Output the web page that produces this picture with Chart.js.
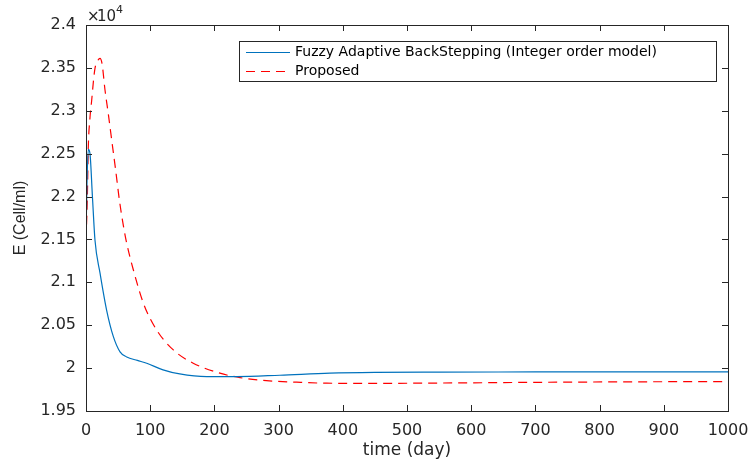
<!DOCTYPE html>
<html lang="en">
<head>
  <meta charset="UTF-8">
  <title>E (Cell/ml) vs time</title>
  <script src="https://cdn.jsdelivr.net/npm/chart.js"></script>
  <style>
    body { margin: 0; background: #ffffff; }
    #wrap { width: 751px; height: 461px; position: relative; }
  </style>
</head>
<body>
  <div id="wrap"><canvas id="chart"></canvas></div>

  <script>
    // time (day) and E values in units of 1e4
    const tBlue = [0, 1.5, 3.6, 6.2, 10, 14, 21.8, 32, 42.5, 53, 63.4, 80, 94.6, 120, 146, 188, 235, 302, 380, 450, 550, 700, 850, 1000];
    const eBlue = [2.15, 2.215, 2.255, 2.25, 2.2, 2.149, 2.111, 2.068, 2.037, 2.019, 2.013, 2.009, 2.0057, 1.998, 1.9932, 1.9901, 1.9901, 1.9917, 1.9941, 1.995, 1.9953, 1.9955, 1.9956, 1.9956];

    const tRed = [0, 2, 3.6, 6, 8.9, 11.5, 14, 18, 21.8, 25, 29.6, 35, 40, 46, 52, 58, 63.4, 73.8, 89.4, 110, 136, 167, 208.5, 240, 281, 328, 375, 450, 550, 700, 850, 1000];
    const eRed = [2.15, 2.196, 2.258, 2.29, 2.3126, 2.334, 2.3495, 2.358, 2.3612, 2.355, 2.3242, 2.295, 2.266, 2.232, 2.196, 2.167, 2.1456, 2.1144, 2.0756, 2.0445, 2.0212, 2.0057, 1.9941, 1.9889, 1.9854, 1.9836, 1.9824, 1.9822, 1.9826, 1.9834, 1.984, 1.9843];

    const seriesNames = ['Fuzzy Adaptive BackStepping (Integer order model)', 'Proposed'];
    const xTicks = [0, 100, 200, 300, 400, 500, 600, 700, 800, 900, 1000];
    const yTicks = [1.95, 2, 2.05, 2.1, 2.15, 2.2, 2.25, 2.3, 2.35, 2.4];

    const BLUE = '#0072BD';
    const RED = '#FF0000';
    const AXIS = '#262626';
    const FONT = '"DejaVu Sans", sans-serif';

    const toPoints = (xs, ys) => xs.map((x, i) => ({ x: x, y: ys[i] }));

    // box, inward ticks, legend and exponent label
    const matlabAxes = {
      id: 'matlabAxes',
      afterDraw(chart) {
        const ctx = chart.ctx;
        const a = chart.chartArea;
        const xs = chart.scales.x, ys = chart.scales.y;
        ctx.save();
        ctx.strokeStyle = AXIS;
        ctx.lineWidth = 1;
        ctx.strokeRect(Math.round(a.left) + 0.5, Math.round(a.top) + 0.5,
                       Math.round(a.right - a.left), Math.round(a.bottom - a.top));
        ctx.beginPath();
        xTicks.forEach(v => {
          const px = Math.round(xs.getPixelForValue(v)) + 0.5;
          ctx.moveTo(px, a.bottom); ctx.lineTo(px, a.bottom - 6);
          ctx.moveTo(px, a.top); ctx.lineTo(px, a.top + 6);
        });
        yTicks.forEach(v => {
          const py = Math.round(ys.getPixelForValue(v)) + 0.5;
          ctx.moveTo(a.left, py); ctx.lineTo(a.left + 6, py);
          ctx.moveTo(a.right, py); ctx.lineTo(a.right - 6, py);
        });
        ctx.stroke();

        // x10^4
        ctx.fillStyle = AXIS;
        ctx.textBaseline = 'alphabetic';
        ctx.textAlign = 'left';
        ctx.font = '15px ' + FONT;
        ctx.fillText('\u00d7', a.left + 1, a.top - 4);
        ctx.fillText('10', a.left + 11, a.top - 4);
        ctx.font = '11px ' + FONT;
        ctx.fillText('4', a.left + 30, a.top - 12);

        // legend
        const lx = 239, ly = 41, lw = 477, lh = 40;
        ctx.fillStyle = '#ffffff';
        ctx.fillRect(lx, ly, lw, lh);
        ctx.strokeStyle = '#262626';
        ctx.lineWidth = 1;
        ctx.strokeRect(lx + 0.5, ly + 0.5, lw, lh);
        const rows = [ly + 11, ly + 30];
        ctx.strokeStyle = BLUE;
        ctx.beginPath(); ctx.moveTo(lx + 7, rows[0] + 0.5); ctx.lineTo(lx + 51, rows[0] + 0.5); ctx.stroke();
        ctx.strokeStyle = RED;
        ctx.lineWidth = 1.2;
        ctx.setLineDash([9, 6]);
        ctx.beginPath(); ctx.moveTo(lx + 7, rows[1] + 0.5); ctx.lineTo(lx + 51, rows[1] + 0.5); ctx.stroke();
        ctx.setLineDash([]);
        ctx.fillStyle = '#000000';
        ctx.font = '14px ' + FONT;
        ctx.textBaseline = 'middle';
        ctx.fillText(seriesNames[0], lx + 56, rows[0]);
        ctx.fillText(seriesNames[1], lx + 56, rows[1]);
        ctx.restore();
      }
    };

    new Chart(document.getElementById('chart'), {
      type: 'line',
      data: {
        datasets: [
          {
            label: seriesNames[0],
            data: toPoints(tBlue, eBlue),
            borderColor: BLUE,
            borderWidth: 1.2,
            pointRadius: 0,
            cubicInterpolationMode: 'monotone',
            fill: false
          },
          {
            label: seriesNames[1],
            data: toPoints(tRed, eRed),
            borderColor: RED,
            borderWidth: 1.2,
            borderDash: [9, 6],
            pointRadius: 0,
            cubicInterpolationMode: 'monotone',
            fill: false
          }
        ]
      },
      options: {
        responsive: true,
        maintainAspectRatio: false,
        animation: false,
        layout: { padding: { top: 25, right: 23, left: 0, bottom: 0 } },
        plugins: {
          legend: { display: false },
          tooltip: { enabled: false }
        },
        scales: {
          x: {
            type: 'linear',
            min: 0,
            max: 1000,
            afterBuildTicks: s => { s.ticks = xTicks.map(v => ({ value: v })); },
            afterFit: s => { s.height = 50; s.paddingLeft = 0; s.paddingRight = 0; },
            grid: { display: false, drawTicks: false },
            border: { display: false },
            ticks: {
              color: AXIS,
              padding: 10,
              maxRotation: 0,
              font: { family: FONT, size: 16 },
              callback: v => String(v)
            },
            title: {
              display: true,
              text: 'time (day)',
              color: AXIS,
              padding: { top: 0, bottom: 0 },
              font: { family: FONT, size: 17 }
            }
          },
          y: {
            min: 1.95,
            max: 2.4,
            afterBuildTicks: s => { s.ticks = yTicks.map(v => ({ value: v })); },
            afterFit: s => { s.width = 86; s.paddingTop = 0; s.paddingBottom = 0; },
            grid: { display: false, drawTicks: false },
            border: { display: false },
            ticks: {
              color: AXIS,
              padding: 10,
              font: { family: FONT, size: 16 },
              callback: v => String(parseFloat(Number(v).toFixed(2)))
            },
            title: {
              display: true,
              text: 'E (Cell/ml)',
              color: AXIS,
              padding: { top: 11, bottom: 0 },
              font: { family: '"Liberation Sans", Arial, sans-serif', size: 16 }
            }
          }
        }
      },
      plugins: [matlabAxes]
    });
  </script>
</body>
</html>
